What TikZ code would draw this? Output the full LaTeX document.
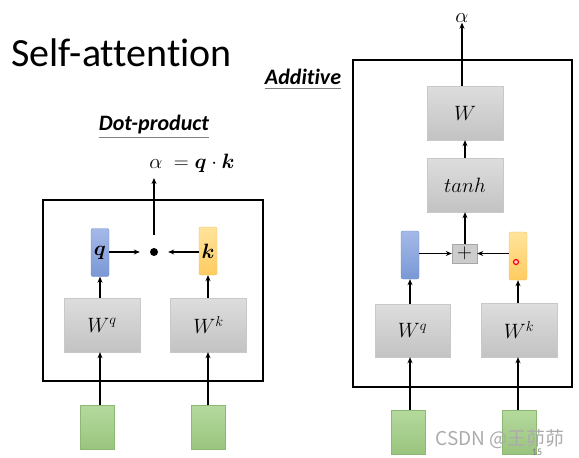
\documentclass[tikz,border=0pt]{standalone}
\usepackage{amsmath,bm}
\usepackage{fontspec}
\setmainfont{Carlito}[Ligatures=NoCommon]
\newfontfamily\cjkfont{Noto Sans CJK SC}
\usetikzlibrary{arrows.meta,calc}
\definecolor{gtop}{HTML}{DDDDDD}
\definecolor{gbot}{HTML}{C3C3C3}
\definecolor{gedge}{HTML}{C8C8C8}
\definecolor{grtop}{HTML}{B5D99D}
\definecolor{grbot}{HTML}{99C47E}
\definecolor{gredge}{HTML}{8DB873}
\definecolor{bltop}{HTML}{A5B9E8}
\definecolor{blbot}{HTML}{7A98D6}
\definecolor{bledge}{HTML}{6E8CCB}
\definecolor{ortop}{HTML}{FFE49C}
\definecolor{orbot}{HTML}{FFCB60}
\definecolor{oredge}{HTML}{F0C060}
\definecolor{wmark}{HTML}{ABABAB}
\tikzset{
  wbox/.style={draw=gedge, top color=gtop, bottom color=gbot, minimum width=76pt, minimum height=54pt, inner sep=0pt, font=\fontsize{21}{24}\selectfont},
  inbox/.style={draw=gredge, top color=grtop, bottom color=grbot, minimum width=34pt, minimum height=44pt, inner sep=0pt},
  qvec/.style={draw=bledge, top color=bltop, bottom color=blbot, rounded corners=2pt, minimum width=18pt, minimum height=48pt, inner sep=0pt, font=\fontsize{20}{24}\selectfont},
  kvec/.style={draw=oredge, top color=ortop, bottom color=orbot, rounded corners=2pt, minimum width=18pt, minimum height=48pt, inner sep=0pt, font=\fontsize{20}{24}\selectfont},
  frame/.style={draw=black, line width=2.2pt, inner sep=0pt},
  arr/.style={-{Stealth[length=6pt,width=5pt]}, line width=1.3pt},
  heading/.style={font=\fontsize{22}{25}\selectfont\bfseries\itshape, inner sep=0pt},
  mathlbl/.style={font=\fontsize{20}{24}\selectfont, inner sep=0pt}
}
\begin{document}
\begin{tikzpicture}[x=1pt,y=-1pt]
\useasboundingbox (0,0) rectangle (579,458);
% title
\node[anchor=base west, inner sep=0pt, font=\fontsize{40}{46}\selectfont] (title) at (11,66) {Self-attention};
% headings
\node[heading] (dp) at (154,125) {Dot-product};
\draw[gray, line width=1pt] ($(dp.south west)+(0,3)$) -- ($(dp.south east)+(0,3)$);
\node[heading] (ad) at (303,77) {Additive};
\draw[gray, line width=1pt] ($(ad.south west)+(0,3)$) -- ($(ad.south east)+(0,3)$);

% ---------- Dot-product ----------
\node[frame, minimum width=220pt, minimum height=181pt] (lbox) at (153,290.5) {};
\node[mathlbl] (alpha1) at (192,163) {$\alpha\;=\bm{q}\cdot\bm{k}$};
\coordinate (atip) at (154,178);
\coordinate (abase) at (154,235);
\node[qvec] (q) at (100,252.5) {$\bm{q}$};
\node[kvec] (k) at (208,251) {$\bm{k}$};
\node[circle, fill=black, minimum size=8pt, inner sep=0pt] (dot) at (154,252) {};
\node[wbox] (Wq) at (102,325) {$W^q$};
\node[wbox] (Wk) at (208.5,325) {$W^k$};
\node[inbox] (xq) at (97,427.5) {};
\node[inbox] (xk) at (208.5,427.5) {};
\draw[arr] (abase) -- (atip);
\draw[arr, shorten >=10pt] (q.east |- dot) -- (dot);
\draw[arr, shorten >=10pt] (k.west |- dot) -- (dot);
\draw[arr] (Wq.north -| q) -- (q.south);
\draw[arr] (Wk.north -| k) -- (k.south);
\draw[arr] (xq.north -| q) -- (Wq.south -| q);
\draw[arr] (xk.north -| k) -- (Wk.south -| k);

% ---------- Additive ----------
\node[frame, minimum width=219pt, minimum height=327pt] (rbox) at (462.5,223.5) {};
\node[mathlbl] (alpha2) at (462,18) {$\alpha$};
\node[wbox] (W) at (465,113) {$W$};
\node[wbox] (th) at (465,185) {$tanh$};
\node[draw=gray!70, fill=gray!40, minimum width=25pt, minimum height=19pt, inner sep=0pt, font=\fontsize{20}{20}\selectfont] (plus) at (464.5,253.5) {$+$};
\node[qvec] (bv) at (410,255) {};
\node[kvec] (ov) at (518,256) {};
\node[circle, draw=red, line width=1.2pt, fill=red!20, minimum size=5pt, inner sep=0pt] (cursor) at (516,262) {};
\node[wbox, minimum width=75pt, minimum height=53pt] (Wq2) at (412.5,330.5) {$W^q$};
\node[wbox] (Wk2) at (519,330) {$W^k$};
\node[inbox] (x1) at (408,432) {};
\node[inbox] (x2) at (519,432) {};
\draw[arr] (W.north -| alpha2) -- (alpha2.south);
\draw[arr] (th.north) -- (W.south);
\draw[arr] (plus.north -| th) -- (th.south);
\draw[arr] (bv.east |- plus) -- (plus.west);
\draw[arr] (ov.west |- plus) -- (plus.east);
\draw[arr] (Wq2.north -| bv) -- (bv.south);
\draw[arr] (Wk2.north -| ov) -- (ov.south);
\draw[arr] (x1.north -| bv) -- (Wq2.south -| bv);
\draw[arr] (x2.north -| ov) -- (Wk2.south -| ov);

% watermark
\node[inner sep=0pt, text=wmark, font=\cjkfont\fontsize{19}{22}\selectfont] (wm) at (500,439) {CSDN @王茆茆};
\node[inner sep=0pt, text=gray, font=\fontsize{10}{11}\selectfont] (pg) at (537,452) {15};
\end{tikzpicture}
\end{document}
